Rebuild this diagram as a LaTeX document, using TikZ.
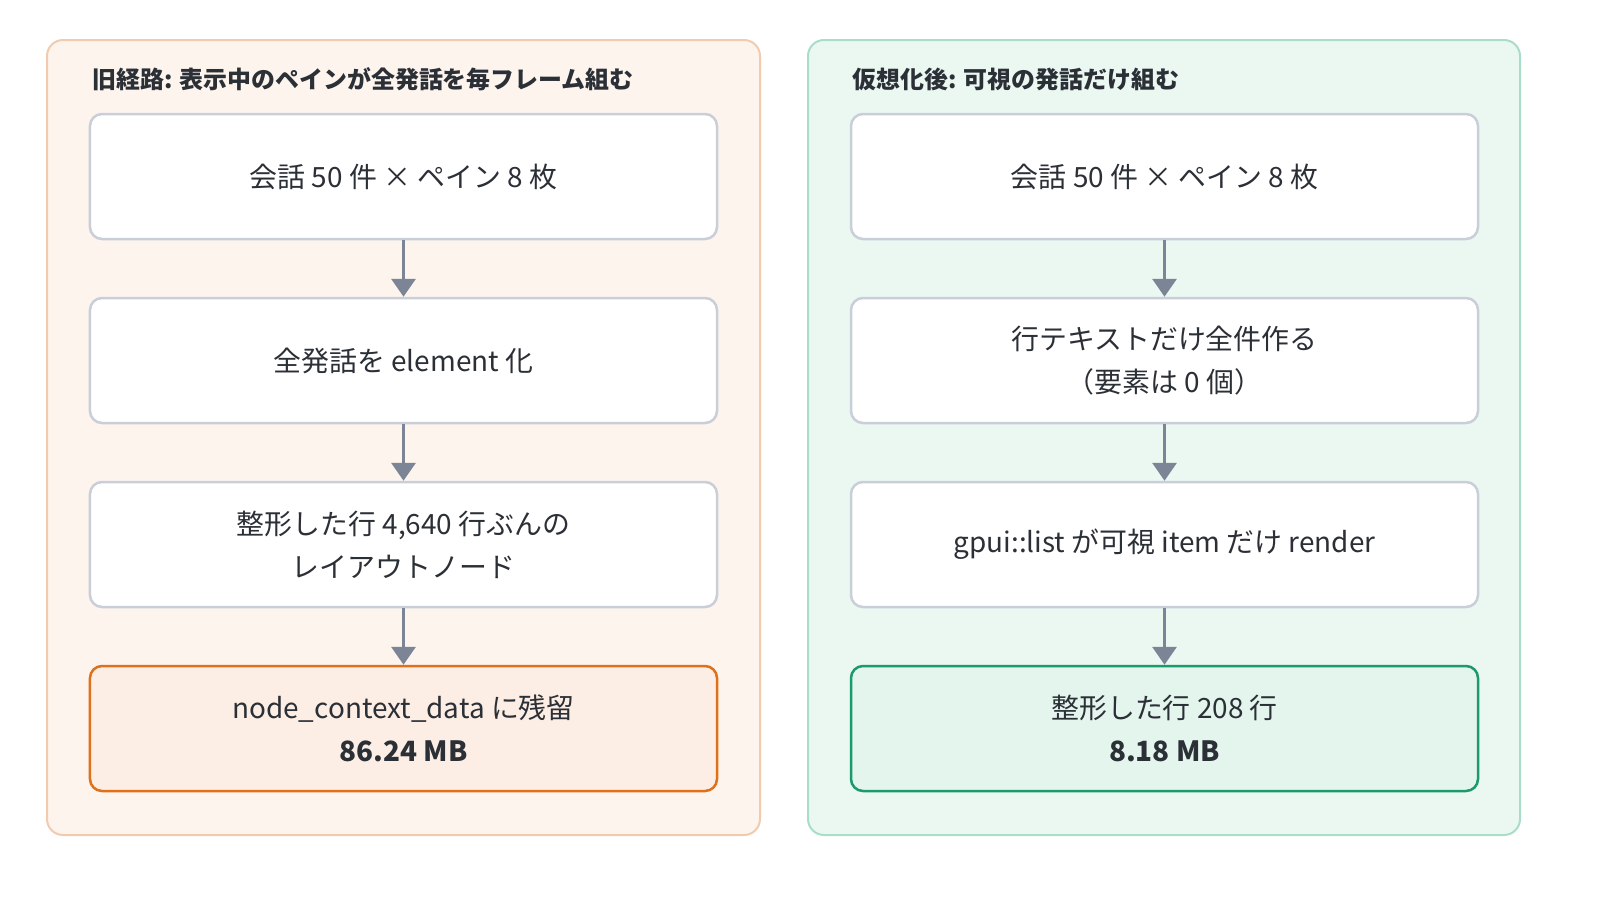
\documentclass[tikz,border=0pt]{standalone}
\usepackage{fontspec}
\setmainfont{Noto Sans CJK JP}
\usetikzlibrary{arrows.meta}
\definecolor{lpan}{HTML}{FDF4EE}\definecolor{lpanb}{HTML}{F2CBAE}
\definecolor{rpan}{HTML}{EBF8F2}\definecolor{rpanb}{HTML}{A9DDC7}
\definecolor{boxb}{HTML}{C9CED9}\definecolor{arr}{HTML}{7B8595}
\definecolor{org}{HTML}{E0711B}\definecolor{orgf}{HTML}{FCEEE4}
\definecolor{grn}{HTML}{1B9A6B}\definecolor{grnf}{HTML}{E4F5ED}
\definecolor{txt}{HTML}{2B2F36}
\begin{document}
\begin{tikzpicture}[x=1bp,y=-1bp,
 panel/.style={draw,line width=2bp,rounded corners=16bp},
 box/.style={draw=boxb,fill=white,line width=2.5bp,rounded corners=12bp,minimum width=627bp,minimum height=125bp,align=center,font=\fontsize{28}{43}\selectfont,text=txt},
 ttl/.style={anchor=west,font=\fontsize{24}{28}\selectfont\bfseries,text=txt},
 ar/.style={draw=arr,line width=3.5bp,-{Triangle[length=18bp,width=24bp]}}]
\path[use as bounding box] (0,0) rectangle (1600,904);
\draw[panel,draw=lpanb,fill=lpan] (47,40) rectangle (760,835);
\draw[panel,draw=rpanb,fill=rpan] (808,40) rectangle (1520,835);
\node[ttl] (t1) at (89,79) {旧経路: 表示中のペインが全発話を毎フレーム組む};
\node[ttl] (t2) at (849,79) {仮想化後: 可視の発話だけ組む};
\node[box] (a1) at (403.5,176.5) {会話 50 件 × ペイン 8 枚};
\node[box] (a2) at (403.5,360.5) {全発話を element 化};
\node[box] (a3) at (403.5,544.5) {整形した行 4,640 行ぶんの\\レイアウトノード};
\node[box,draw=org,fill=orgf] (a4) at (403.5,728.5) {node\_context\_data に残留\\\textbf{86.24 MB}};
\node[box] (b1) at (1164.5,176.5) {会話 50 件 × ペイン 8 枚};
\node[box] (b2) at (1164.5,360.5) {行テキストだけ全件作る\\（要素は 0 個）};
\node[box] (b3) at (1164.5,544.5) {gpui::list が可視 item だけ render};
\node[box,draw=grn,fill=grnf] (b4) at (1164.5,728.5) {整形した行 208 行\\\textbf{8.18 MB}};
\foreach \p/\q in {a1/a2,a2/a3,a3/a4,b1/b2,b2/b3,b3/b4}
  \draw[ar] (\p.south) -- (\q.north);
\end{tikzpicture}
\end{document}
